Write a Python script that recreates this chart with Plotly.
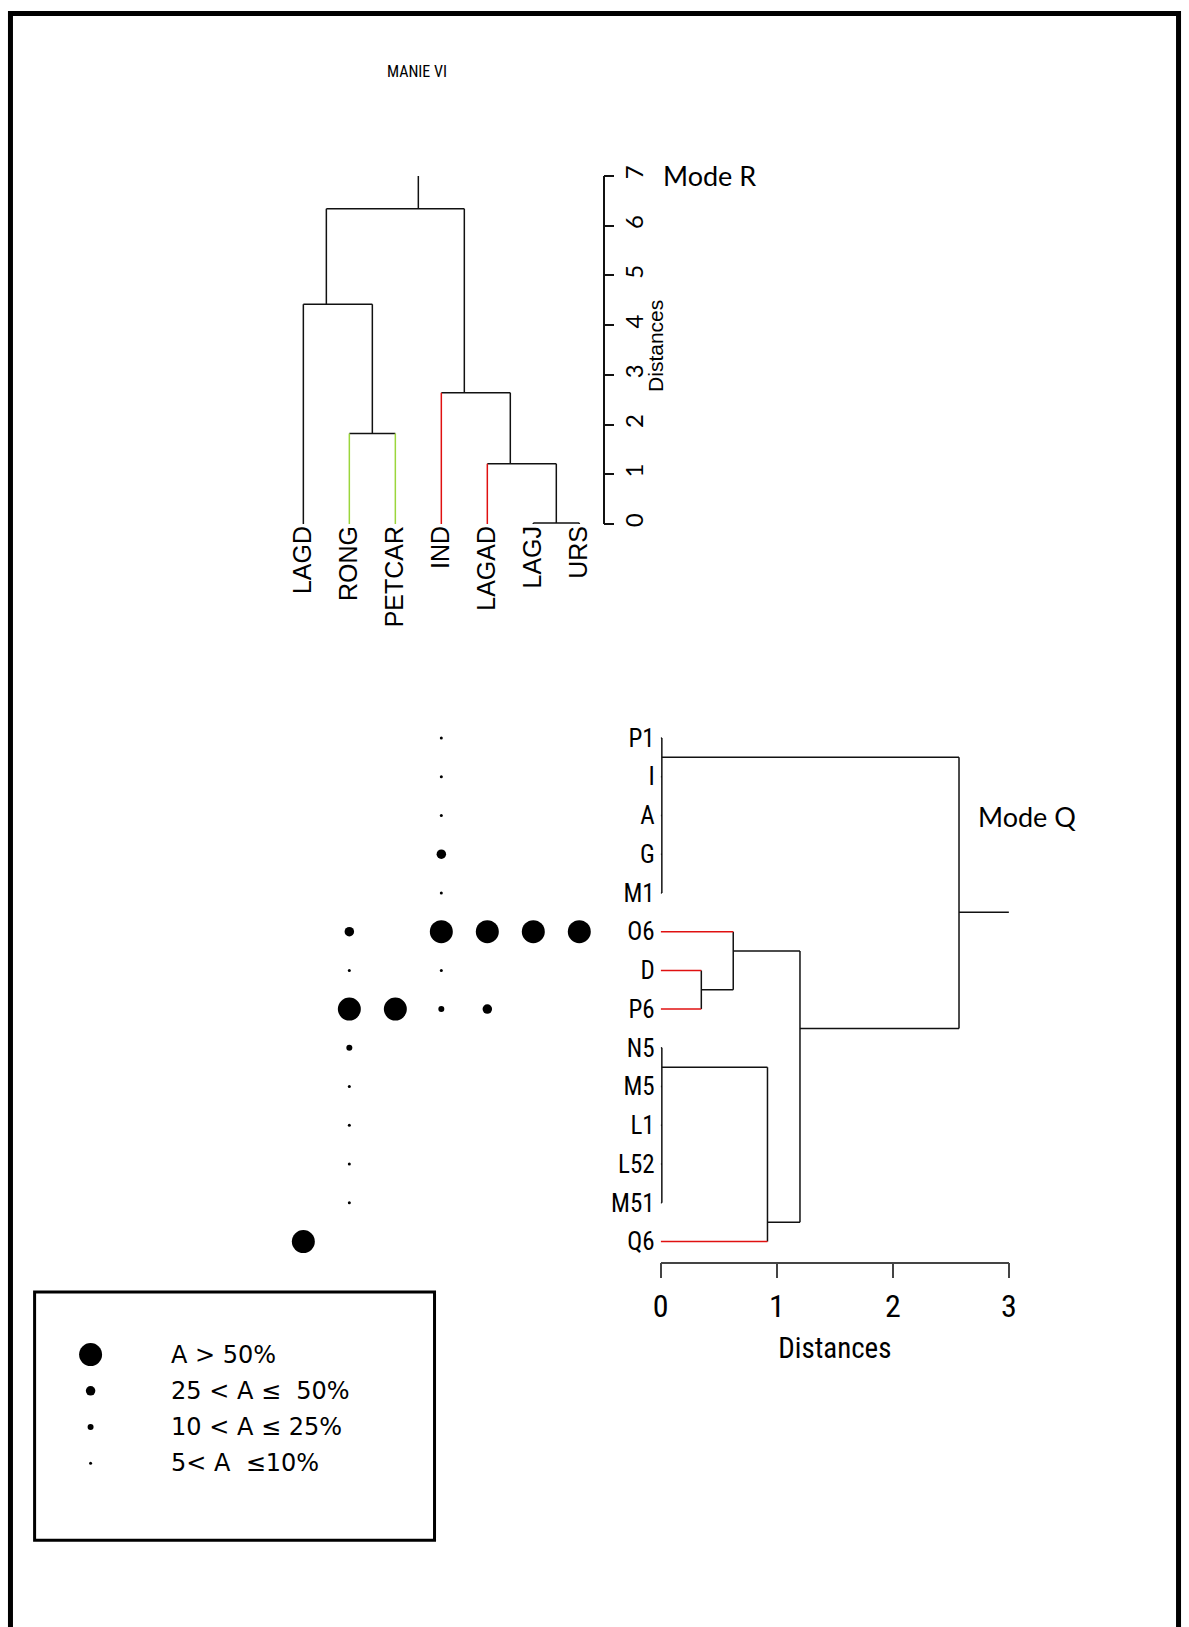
import plotly.graph_objects as go

W, H = 1189, 1627
# the photographed page comes out with an 8 px white band round it and is scaled back
# to W x H; pixel targets below are picture pixels, px_x / px_y undo that mapping
BAND = 8
SX, SY = W / (W + 2 * BAND), H / (H + 2 * BAND)
NUDGE_Y = 3

# ---------------- data ----------------
TITLE = "MANIE VI"

R_TAXA = ["LAGD", "RONG", "PETCAR", "IND", "LAGAD", "LAGJ", "URS"]
# (children, merge height, link position in leaf units); ints refer to earlier merges
R_MERGES = [
    (["LAGJ", "URS"], 0.02, 6.5),
    (["LAGAD", 0], 1.21, 5.5),
    (["IND", 1], 2.64, 4.5),
    (["RONG", "PETCAR"], 1.82, 2.5),
    (["LAGD", 3], 4.42, 1.5),
    ([4, 2], 6.34, 3.5),
]
R_ROOT_TOP = 7.0
R_TICKS = [0, 1, 2, 3, 4, 5, 6, 7]
R_COLORED = {"RONG": "#9bd63c", "PETCAR": "#9bd63c", "IND": "#e01010", "LAGAD": "#e01010"}

Q_SAMPLES = ["P1", "I", "A", "G", "M1", "O6", "D", "P6",
             "N5", "M5", "L1", "L52", "M51", "Q6"]
Q_MERGES = [
    (["P1", "I", "A", "G", "M1"], 0.01, 1.5),
    (["D", "P6"], 0.35, 7.5),
    (["O6", 1], 0.625, 6.5),
    (["N5", "M5", "L1", "L52", "M51"], 0.01, 9.5),
    ([3, "Q6"], 0.92, 13.5),
    ([2, 4], 1.20, 8.5),
    ([0, 5], 2.57, 5.5),
]
Q_ROOT_TOP = 3.0
Q_TICKS = [0, 1, 2, 3]
Q_COLORED = {"O6": "#e01010", "D": "#e01010", "P6": "#e01010", "Q6": "#e01010"}

# abundance class: 1 = 5-10 %, 2 = 10-25 %, 3 = 25-50 %, 4 = > 50 %
DOT_SAMPLE = ["P1", "I", "A", "G", "M1",
              "O6", "O6", "O6", "O6", "O6",
              "D", "D",
              "P6", "P6", "P6", "P6",
              "N5", "M5", "L1", "L52", "M51", "Q6"]
DOT_TAXON = ["IND", "IND", "IND", "IND", "IND",
             "RONG", "IND", "LAGAD", "LAGJ", "URS",
             "RONG", "IND",
             "RONG", "PETCAR", "IND", "LAGAD",
             "RONG", "RONG", "RONG", "RONG", "RONG", "LAGD"]
DOT_CLASS = [1, 1, 1, 3, 1,
             3, 4, 4, 4, 4,
             1, 1,
             4, 4, 2, 3,
             2, 1, 1, 1, 1, 4]

LEGEND_CLASS = [4, 3, 2, 1]
LEGEND_TEXT = ["A > 50%", "25 < A ≤  50%", "10 < A ≤ 25%", "5< A  ≤10%"]

# ---------------- styling ----------------
CLASS_SIZE = {1: 3, 2: 6, 3: 9.5, 4: 23}
GEO = "Lato, 'DejaVu Sans', sans-serif"
WIDE = "'DejaVu Sans', Lato, sans-serif"
NARROW = "'Liberation Sans Narrow', 'Arial Narrow', 'Roboto Condensed', 'Liberation Sans', sans-serif"
ARIAL = "'Liberation Sans', Arial, sans-serif"
BLACK = "#111111"

# pixel frame of the sample rows (Q-mode)
ROW0_PX, ROW_STEP = 737.0, 38.7


def px_x(p):
    return (p / SX - BAND) / W


def px_y(p):
    return 1 - ((p - NUDGE_Y) / SY - BAND) / H


def dendro_segments(leaves, merges, root_top, colored):
    """Return {colour: (leafpos list, dist list)} of line segments."""
    pos = {name: i + 1 for i, name in enumerate(leaves)}
    hgt = {name: 0.0 for name in leaves}
    segs = {}

    def add(col, lp, dv):
        a, b = segs.setdefault(col, ([], []))
        a.extend(lp + [None])
        b.extend(dv + [None])

    for k, (kids, h, p) in enumerate(merges):
        kp = [pos[c] for c in kids]
        add(BLACK, [min(kp), max(kp)], [h, h])
        for c in kids:
            add(colored.get(c, BLACK), [pos[c], pos[c]], [hgt[c], h])
        pos[k], hgt[k] = p, h
    last = len(merges) - 1
    add(BLACK, [pos[last], pos[last]], [hgt[last], root_top])
    return segs


fig = go.Figure()

# R-mode dendrogram (taxa)
for col, (lp, dv) in dendro_segments(R_TAXA, R_MERGES, R_ROOT_TOP, R_COLORED).items():
    fig.add_trace(go.Scatter(x=lp, y=dv, mode="lines", line={"color": col, "width": 1.5},
                             xaxis="x", yaxis="y", hoverinfo="skip"))

# Q-mode dendrogram (samples)
for col, (lp, dv) in dendro_segments(Q_SAMPLES, Q_MERGES, Q_ROOT_TOP, Q_COLORED).items():
    fig.add_trace(go.Scatter(x=dv, y=lp, mode="lines", line={"color": col, "width": 1.5},
                             xaxis="x2", yaxis="y2", hoverinfo="skip"))

# abundance dots (taxon column x sample row)
fig.add_trace(go.Scatter(
    x=[R_TAXA.index(t) + 1 for t in DOT_TAXON],
    y=[Q_SAMPLES.index(s) + 1 for s in DOT_SAMPLE],
    mode="markers",
    marker={"color": "black", "opacity": 1, "size": [CLASS_SIZE[c] for c in DOT_CLASS],
            "line": {"width": 0}},
    xaxis="x", yaxis="y2", cliponaxis=False,
    text=[f"{s} / {t}" for s, t in zip(DOT_SAMPLE, DOT_TAXON)], hoverinfo="text",
))

# legend key
fig.add_trace(go.Scatter(
    x=[0.14] * len(LEGEND_CLASS), y=list(range(len(LEGEND_CLASS))),
    mode="markers",
    marker={"color": "black", "opacity": 1, "size": [CLASS_SIZE[c] for c in LEGEND_CLASS],
            "line": {"width": 0}},
    xaxis="x3", yaxis="y3", hoverinfo="skip", cliponaxis=False,
))
for i, t in enumerate(LEGEND_TEXT):
    fig.add_annotation(x=0.335, y=i, xref="x3", yref="y3", text=t, showarrow=False,
                       xanchor="left", yanchor="middle",
                       font={"family": WIDE, "size": 24, "color": "black"})

noaxis = {"showgrid": False, "zeroline": False}

fig.update_layout(
    width=W, height=H,
    margin={"l": 0, "r": 0, "t": 0, "b": 0},
    paper_bgcolor="white", plot_bgcolor="white",
    showlegend=False,
    xaxis={**noaxis, "domain": [px_x(260), px_x(602.7)],
           "range": [1 + (260 - 303.3) / 46, 1 + (602.7 - 303.3) / 46],
           "anchor": "y", "tickmode": "array",
           "tickvals": list(range(1, len(R_TAXA) + 1)), "ticktext": R_TAXA,
           "tickangle": -90, "ticks": "", "showline": False, "ticklabelstandoff": -4,
           "tickfont": {"family": ARIAL, "size": 25, "color": "black"}},
    yaxis={**noaxis, "domain": [px_y(523.3), px_y(175.7)], "range": [0, 7],
           "anchor": "x", "side": "right", "tickmode": "array", "tickvals": R_TICKS,
           "ticks": "outside", "ticklen": 10, "tickwidth": 1.5, "tickcolor": BLACK,
           "showline": True, "linewidth": 1.5, "linecolor": BLACK, "tickangle": -90,
           "tickfont": {"family": GEO, "size": 24, "color": "black"}},
    xaxis2={**noaxis, "domain": [px_x(660.7), px_x(1009)], "range": [0, 3],
            "anchor": "y2", "tickmode": "array", "tickvals": Q_TICKS,
            "ticks": "outside", "ticklen": 15, "tickwidth": 1.5, "tickcolor": "#444",
            "showline": True, "linewidth": 1.5, "linecolor": "#444",
            "tickfont": {"family": NARROW, "size": 32, "color": "black"},
            "title": {"text": "Distances", "font": {"family": NARROW, "size": 29, "color": "black"},
                      "standoff": 14}},
    yaxis2={**noaxis, "domain": [px_y(1260), px_y(700)],
            "range": [1 + (1260 - ROW0_PX) / ROW_STEP, 1 + (700 - ROW0_PX) / ROW_STEP],
            "anchor": "x2", "tickmode": "array",
            "tickvals": list(range(1, len(Q_SAMPLES) + 1)), "ticktext": Q_SAMPLES,
            "ticks": "", "showline": False, "ticklabelstandoff": 5,
            "tickfont": {"family": NARROW, "size": 25, "color": "black"}},
    xaxis3={**noaxis, "domain": [px_x(34.5), px_x(434.5)], "range": [0, 1],
            "anchor": "y3", "visible": False},
    yaxis3={**noaxis, "domain": [px_y(1538.5), px_y(1290.5)],
            "range": [(1538.5 - 1353) / 36.2, (1290.5 - 1353) / 36.2],
            "anchor": "x3", "visible": False},
)

# outer frame (as close to the picture edge as the page allows) and legend box
fig.add_shape(type="rect", xref="paper", yref="paper",
              x0=2.5 / W, x1=(W - 2.5) / W, y0=-0.05, y1=1 - 2.5 / H,
              line={"color": "black", "width": 5})
fig.add_shape(type="rect", xref="paper", yref="paper",
              x0=px_x(34.5), x1=px_x(434.5), y0=px_y(1538.5), y1=px_y(1290.5),
              line={"color": "black", "width": 3})

# texts
fig.add_annotation(x=px_x(416.7), y=px_y(71.5), xref="paper", yref="paper", text=TITLE,
                   showarrow=False, xanchor="center", yanchor="middle",
                   font={"family": NARROW, "size": 16, "color": "black"})
fig.add_annotation(x=px_x(661), y=px_y(175), xref="paper", yref="paper", text="Mode R",
                   showarrow=False, xanchor="left", yanchor="middle",
                   font={"family": GEO, "size": 27, "color": "black"})
fig.add_annotation(x=px_x(976), y=px_y(816), xref="paper", yref="paper", text="Mode Q",
                   showarrow=False, xanchor="left", yanchor="middle",
                   font={"family": GEO, "size": 27, "color": "black"})
fig.add_annotation(x=px_x(655.5), y=px_y(345), xref="paper", yref="paper", text="Distances",
                   showarrow=False, textangle=-90, xanchor="center", yanchor="middle",
                   font={"family": ARIAL, "size": 21, "color": "black"})

fig.write_html(
    "out.html",
    config={"displayModeBar": False},
    post_script="document.body.style.margin='0';document.body.style.overflow='hidden';",
)
